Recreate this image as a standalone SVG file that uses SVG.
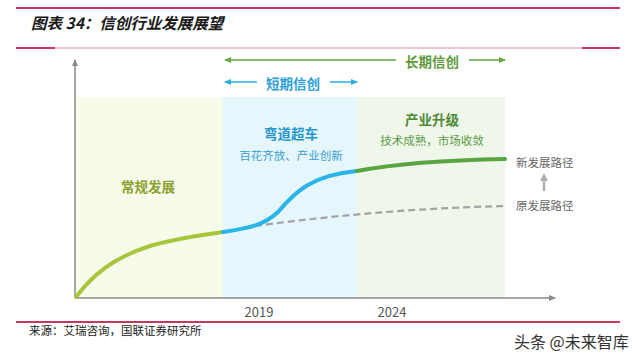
<svg xmlns="http://www.w3.org/2000/svg" width="640" height="359" viewBox="0 0 640 359">
<style>
text{font-family:"Noto Sans CJK SC","Noto Sans",sans-serif}
.b{font-weight:bold}
.c{text-anchor:middle}
.ax{stroke:#8a8a8a;stroke-width:1.5;fill:none}
.curve{fill:none;stroke-width:4;stroke-linecap:round}
.gray{fill:#666;font-size:11.5px}
</style>
<defs>
<marker id="axh" markerWidth="8" markerHeight="8" refX="6" refY="4" orient="auto" markerUnits="userSpaceOnUse">
<path d="M0,1 L7,4 L0,7 Z" fill="#8a8a8a"/>
</marker>
<marker id="gh" markerWidth="8" markerHeight="8" refX="6" refY="4" orient="auto" markerUnits="userSpaceOnUse">
<path d="M0,1 L7,4 L0,7 Z" fill="#6aa545"/>
</marker>
<marker id="bh" markerWidth="8" markerHeight="8" refX="6" refY="4" orient="auto" markerUnits="userSpaceOnUse">
<path d="M0,1 L7,4 L0,7 Z" fill="#2aaee3"/>
</marker>
<marker id="uh" markerWidth="10" markerHeight="10" refX="5" refY="5" orient="auto" markerUnits="userSpaceOnUse">
<path d="M0,1 L8,5 L0,9 Z" fill="#b0b0b0"/>
</marker>
</defs>
<rect width="640" height="359" fill="#fff"/>
<g id="header">
<line x1="16" y1="8" x2="620" y2="8" stroke="#c8375d" stroke-width="2"/>
<text x="31" y="29" font-size="15.5" font-style="italic" class="b" fill="#1a1a1a">图表 34：信创行业发展展望</text>
<line x1="16" y1="48" x2="620" y2="48" stroke="#d7718c" stroke-width="0.8"/>
<line x1="16" y1="48" x2="55" y2="48" stroke="#c8375d" stroke-width="2"/>
<line x1="582" y1="48" x2="620" y2="48" stroke="#c8375d" stroke-width="2"/>
</g>
<g id="phase-normal">
<rect x="76" y="97" width="147" height="201" fill="#f7fbea"/>
<text x="148" y="192" font-size="13.5" class="b c" fill="#8ca230">常规发展</text>
</g>
<g id="phase-short">
<rect x="223" y="97" width="134" height="201" fill="#e5f6fd"/>
<text x="291" y="139" font-size="13.5" class="b c" fill="#2596cc">弯道超车</text>
<text x="291" y="160" font-size="11.5" class="c" fill="#3a9fcf">百花齐放、产业创新</text>
</g>
<g id="phase-long">
<rect x="357" y="97" width="148" height="201" fill="#eff6ea"/>
<text x="432" y="125" font-size="13.5" class="b c" fill="#4e8a35">产业升级</text>
<text x="432" y="145" font-size="11.5" class="c" fill="#5b9a45">技术成熟，市场收敛</text>
</g>
<g id="connectors">
<line class="ax" x1="75" y1="298" x2="75" y2="60" marker-end="url(#axh)"/>
<line class="ax" x1="75" y1="298" x2="555" y2="298" marker-end="url(#axh)"/>
<path d="M255,226 Q380,209 505,206" fill="none" stroke="#a3a3a3" stroke-width="2.2" stroke-dasharray="7,4"/>
<path class="curve" stroke="#a6c73a" d="M76,297 C92,276 112,258 150,246 C180,237 203,235 223,232"/>
<path class="curve" stroke="#2ab4e8" d="M223,232 C250,228 264,225 278,212 C295,192 312,175 357,171"/>
<path class="curve" stroke="#5aa541" d="M357,171 C400,163 450,160 505,159"/>
<line x1="396" y1="60" x2="225" y2="60" stroke="#6aa545" stroke-width="1.5" marker-end="url(#gh)"/>
<line x1="469" y1="60" x2="505" y2="60" stroke="#6aa545" stroke-width="1.5" marker-end="url(#gh)"/>
<line x1="257" y1="82" x2="225" y2="82" stroke="#2aaee3" stroke-width="1.5" marker-end="url(#bh)"/>
<line x1="330" y1="82" x2="357" y2="82" stroke="#2aaee3" stroke-width="1.5" marker-end="url(#bh)"/>
<line x1="544" y1="191" x2="544" y2="176" stroke="#b0b0b0" stroke-width="2.5" marker-end="url(#uh)"/>
</g>
<g id="label-long"><text x="432" y="67" font-size="13.5" class="b c" fill="#5e9a3c">长期信创</text></g>
<g id="label-short"><text x="293" y="89" font-size="13.5" class="b c" fill="#2aa0d8">短期信创</text></g>
<g id="label-new"><text x="516" y="167" class="gray">新发展路径</text></g>
<g id="label-old"><text x="516" y="210" class="gray">原发展路径</text></g>
<g id="years">
<text x="259" y="317" font-size="13" class="c" fill="#555">2019</text>
<text x="392" y="317" font-size="13" class="c" fill="#555">2024</text>
</g>
<g id="footer">
<line x1="16" y1="322" x2="620" y2="322" stroke="#c8375d" stroke-width="2"/>
<text x="29" y="335" font-size="11.5" fill="#222">来源：艾瑞咨询，国联证券研究所</text>
<text x="514" y="348" font-size="16" fill="#333">头条 @未来智库</text>
</g>
</svg>
